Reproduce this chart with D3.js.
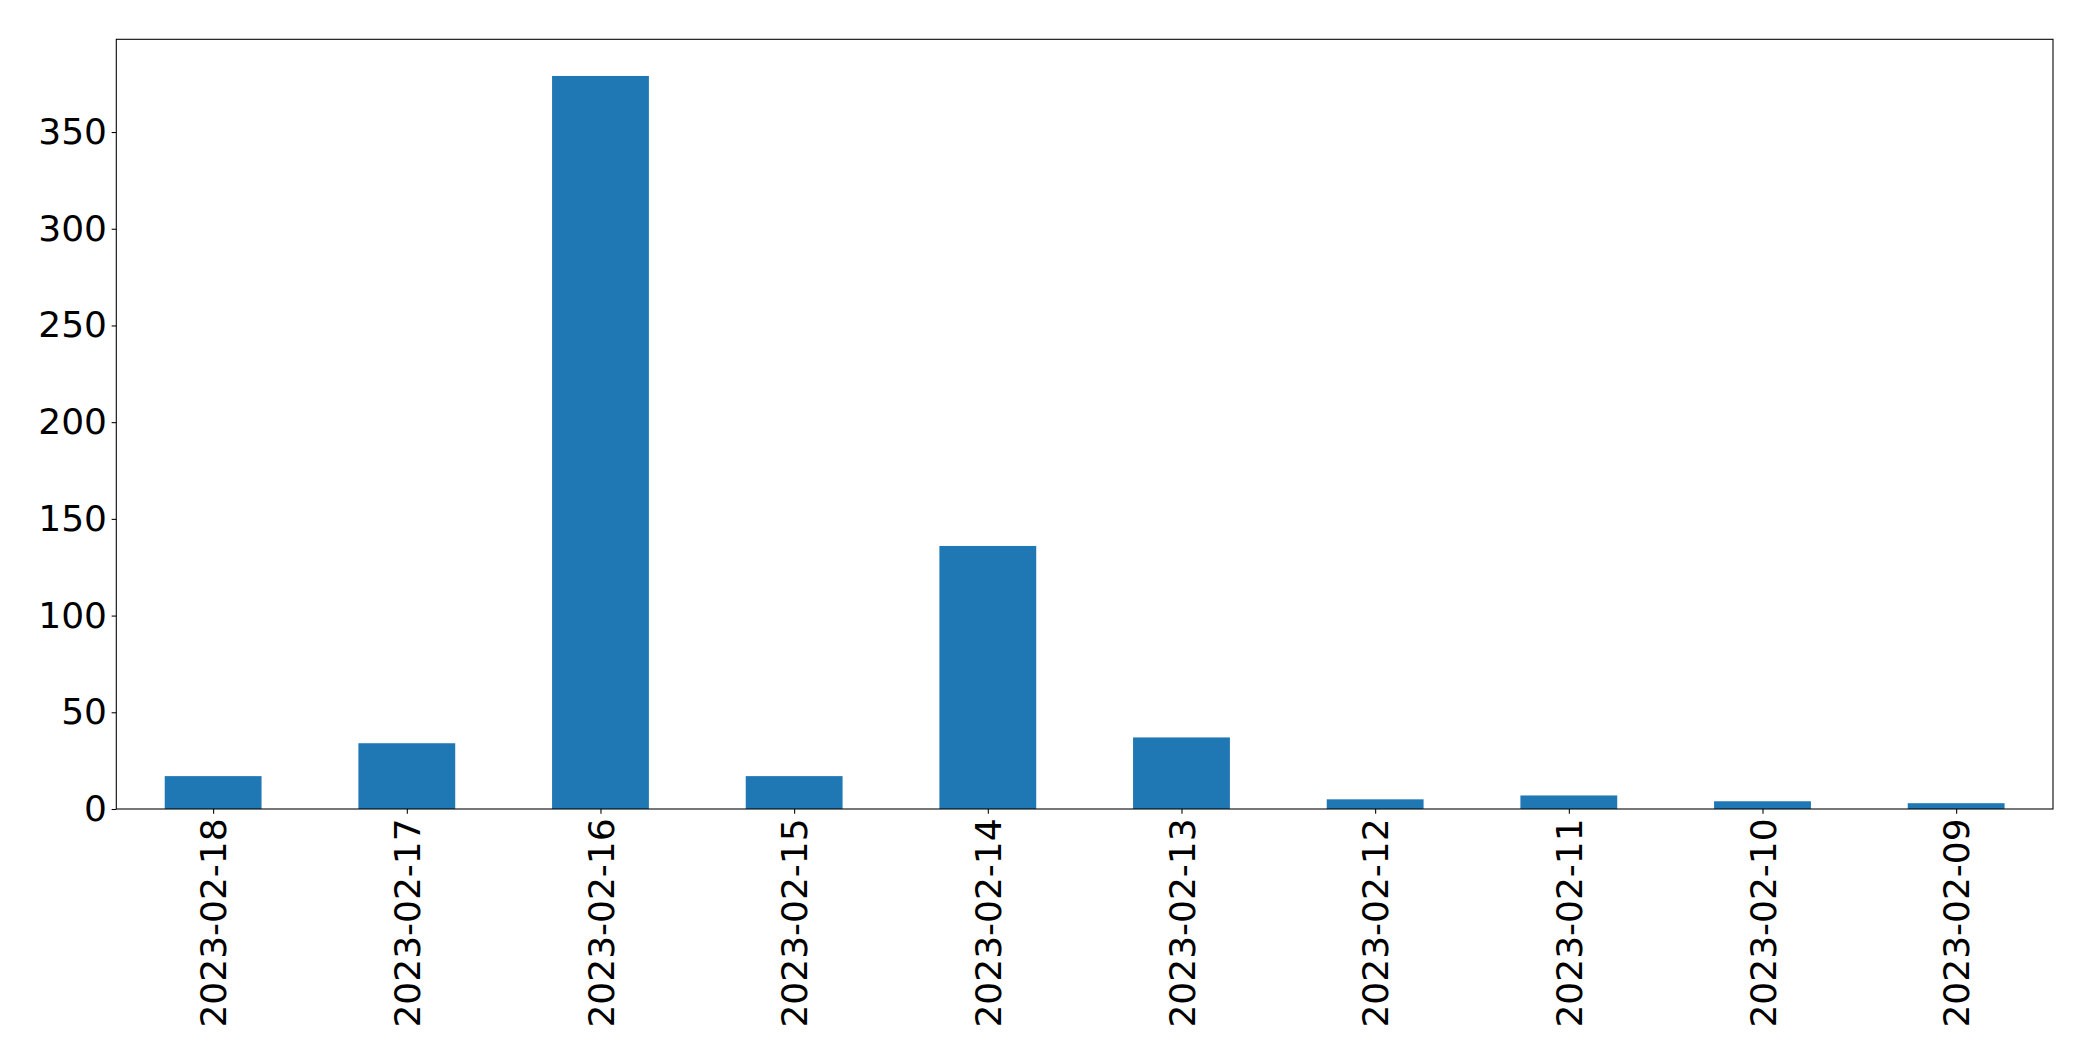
<!DOCTYPE html>
<html>
<head>
<meta charset="utf-8">
<script src="https://cdn.jsdelivr.net/npm/d3@7"></script>
<style>
  html, body { margin: 0; padding: 0; background: #fff; }
  svg { display: block; }
</style>
</head>
<body>
<script>
const categories = ["2023-02-18","2023-02-17","2023-02-16","2023-02-15","2023-02-14","2023-02-13","2023-02-12","2023-02-11","2023-02-10","2023-02-09"];
const values = [17, 34, 379, 17, 136, 37, 5, 7, 4, 3];
const yTicks = [0, 50, 100, 150, 200, 250, 300, 350];

(function () {
const W = 2093, H = 1061;
const mLeft = 116.3, mRight = 2053, mTop = 39.3, mBottom = 809;
const fontSize = 36;
const tickLen = 4.67, pad = 4.67;

const svg = d3.select("body").append("svg").attr("width", W).attr("height", H)
  .style("font-family", "'DejaVu Sans', sans-serif");

const x = d3.scaleLinear().domain([-0.5, categories.length - 0.5]).range([mLeft, mRight]);
const y = d3.scaleLinear().domain([0, d3.max(values) * 1.05]).range([mBottom, mTop]);

svg.append("g").selectAll("rect").data(values).join("rect")
  .attr("x", (d, i) => x(i - 0.25))
  .attr("width", (d, i) => x(i + 0.25) - x(i - 0.25))
  .attr("y", d => y(d))
  .attr("height", d => y(0) - y(d))
  .attr("fill", "#1f77b4");

// y axis
const yAxis = d3.axisLeft(y).tickValues(yTicks).tickSize(tickLen).tickPadding(pad).tickFormat(d3.format("d"));
const gy = svg.append("g").attr("transform", `translate(${mLeft},0)`).call(yAxis);
gy.select(".domain").remove();
gy.selectAll("line").attr("stroke", "#000").attr("stroke-width", 1.07);
gy.selectAll("text").attr("font-size", fontSize).attr("fill", "#000").attr("font-family", "'DejaVu Sans', sans-serif");

// x axis
const xAxis = d3.axisBottom(x).tickValues(d3.range(categories.length)).tickSize(tickLen).tickPadding(pad)
  .tickFormat(i => categories[i]);
const gx = svg.append("g").attr("transform", `translate(0,${mBottom})`).call(xAxis);
gx.select(".domain").remove();
gx.selectAll("line").attr("stroke", "#000").attr("stroke-width", 1.07);
gx.selectAll("text")
  .attr("font-size", fontSize).attr("fill", "#000").attr("font-family", "'DejaVu Sans', sans-serif")
  .attr("transform", `translate(0,${tickLen + pad}) rotate(-90)`)
  .attr("x", 0).attr("y", 0).attr("dy", "0.35em")
  .attr("text-anchor", "end");

// frame
svg.append("rect").attr("x", mLeft).attr("y", mTop).attr("width", mRight - mLeft).attr("height", mBottom - mTop)
  .attr("fill", "none").attr("stroke", "#000").attr("stroke-width", 1.07);
})();
</script>
</body>
</html>
